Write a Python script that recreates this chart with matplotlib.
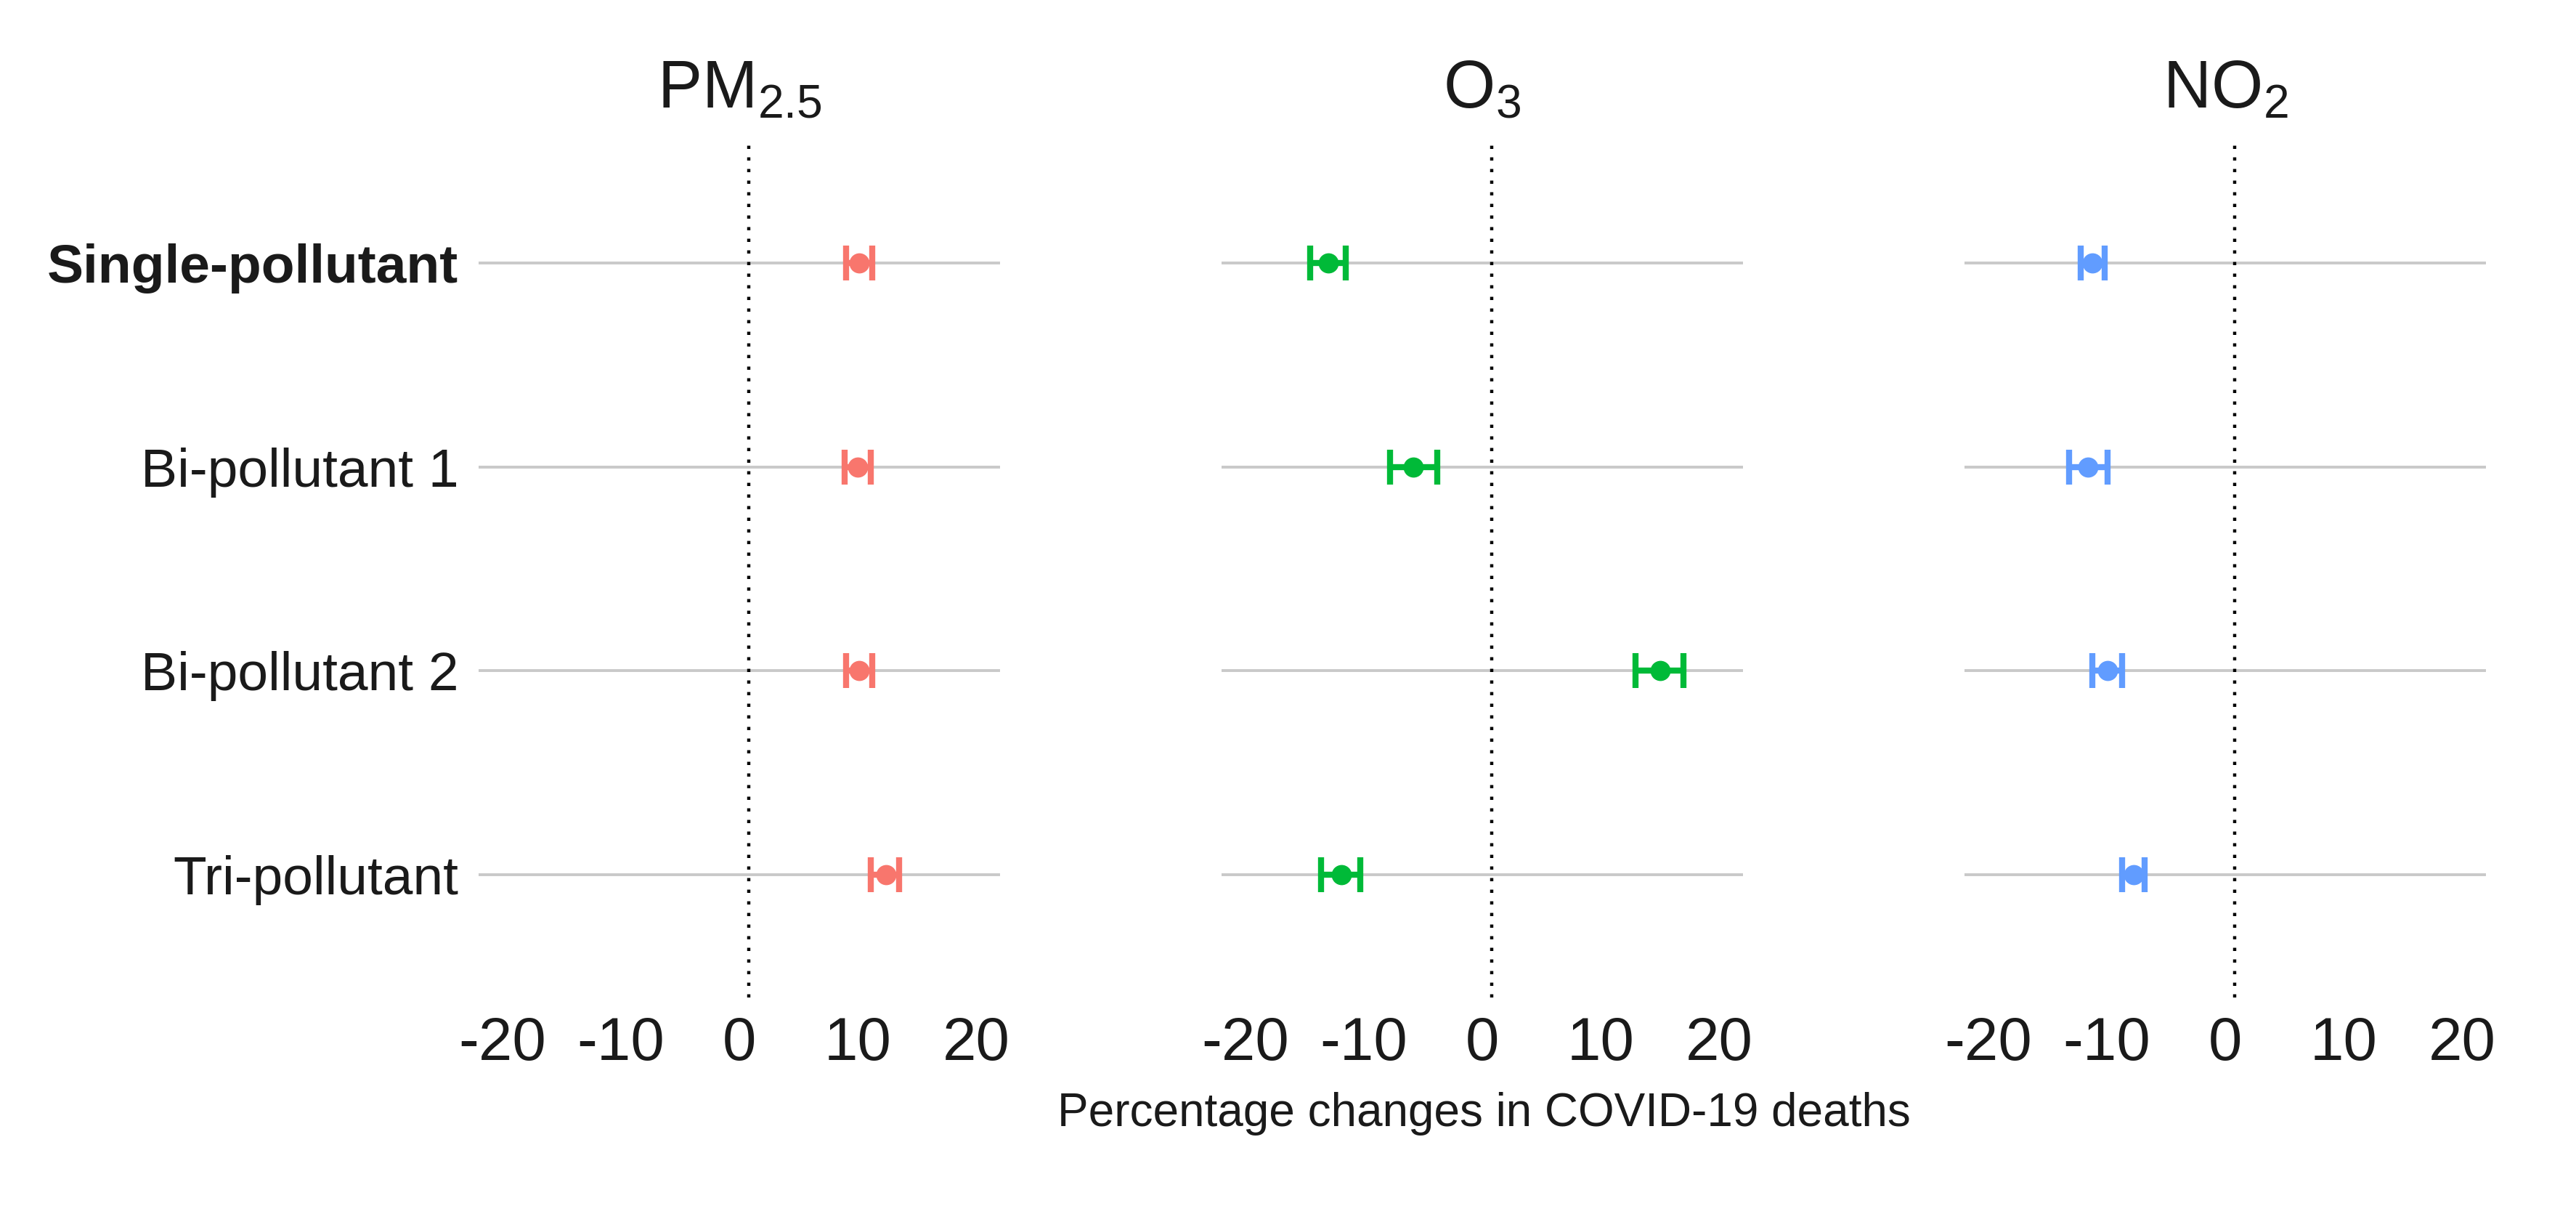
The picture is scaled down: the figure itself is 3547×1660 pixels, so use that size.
import matplotlib
matplotlib.use("Agg")
import matplotlib.pyplot as plt

plt.rcParams['font.family'] = ['Liberation Sans', 'DejaVu Sans']
plt.rcParams['mathtext.fontset'] = 'custom'
plt.rcParams['mathtext.rm'] = 'Liberation Sans'
plt.rcParams['mathtext.it'] = 'Liberation Sans:italic'

# data
models = ['Single-pollutant', 'Bi-pollutant 1', 'Bi-pollutant 2', 'Tri-pollutant']
pollutants = [r'$\mathrm{PM}_{2.5}$', r'$\mathrm{O}_{3}$', r'$\mathrm{NO}_{2}$']
colors = ['#F8766D', '#00BA38', '#619CFF']

pm25_est = [10.1, 10.0, 10.1, 12.4]
pm25_lo = [9.0, 8.9, 9.0, 11.1]
pm25_hi = [11.2, 11.1, 11.2, 13.5]

o3_est = [-13.0, -5.8, 15.0, -11.9]
o3_lo = [-14.5, -7.8, 12.9, -13.6]
o3_hi = [-11.5, -3.8, 17.0, -10.3]

no2_est = [-11.2, -11.6, -9.9, -7.7]
no2_lo = [-12.2, -13.2, -11.2, -8.7]
no2_hi = [-10.2, -9.9, -8.7, -6.8]

xticks = [-20, -10, 0, 10, 20]
ref_line = 0.8

est_all = [pm25_est, o3_est, no2_est]
lo_all = [pm25_lo, o3_lo, no2_lo]
hi_all = [pm25_hi, o3_hi, no2_hi]

W, H = 3548, 1660
dpi = 200
fig = plt.figure(figsize=(W / dpi, H / dpi), dpi=dpi)

lefts = [659, 1682, 2705]
pw = 718
top, bottom = 193, 1373
txt = '#1a1a1a'

ypos = list(range(len(models)))

for i in range(3):
    ax = fig.add_axes([lefts[i] / W, 1 - bottom / H, pw / W, (bottom - top) / H])
    est, lo, hi = est_all[i], lo_all[i], hi_all[i]
    xerr = [[e - l for e, l in zip(est, lo)], [h - e for e, h in zip(est, hi)]]
    ax.axvline(ref_line, color='black', lw=1.6, linestyle=(0, (1, 2.6)), zorder=2)
    ax.errorbar(est, ypos, xerr=xerr, fmt='o', color=colors[i], ms=9,
                elinewidth=3.0, capsize=8.5, capthick=3.0, zorder=3)
    ax.set_xlim(-22, 22)
    ax.set_ylim(3.6, -0.6)
    ax.set_xticks(xticks)
    ax.set_xticklabels([str(t) for t in xticks])
    ax.set_yticks(ypos)
    if i == 0:
        ax.set_yticklabels(models)
        ax.get_yticklabels()[0].set_fontweight('bold')
    else:
        ax.set_yticklabels([])
    ax.grid(axis='y', color='#c9c9c9', lw=1.4, zorder=1)
    ax.grid(axis='x', visible=False)
    ax.set_axisbelow(True)
    for s in ax.spines.values():
        s.set_visible(False)
    ax.tick_params(axis='x', length=0, pad=9, labelsize=30, labelcolor=txt)
    ax.tick_params(axis='y', length=0, pad=10, labelsize=27, labelcolor=txt)
    ax.set_title(pollutants[i], fontsize=33, color=txt, pad=16)

fig.text(2043 / W, 1 - 1550 / H, 'Percentage changes in COVID-19 deaths',
         ha='center', va='baseline', fontsize=23, color=txt)

fig.savefig('out.png', dpi=dpi, facecolor='white')
